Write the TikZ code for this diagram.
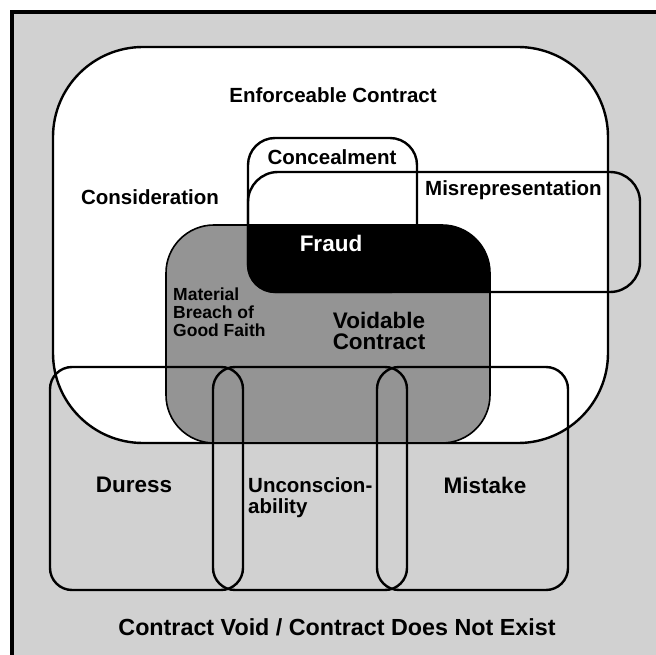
\documentclass[tikz,border=0pt]{standalone}
\usepackage{fontspec}
\setmainfont{Liberation Sans}
\definecolor{paper}{gray}{0.82}
\definecolor{voidgray}{gray}{0.58}
\tikzset{
  region/.style={draw=black, line width=2.4pt, rounded corners=#1},
  region/.default=22pt,
  lbl/.style={font=\bfseries\fontsize{20.5}{21}\selectfont, inner sep=0pt},
  smalllbl/.style={font=\bfseries\fontsize{17.5}{18}\selectfont, inner sep=0pt},
  biglbl/.style={font=\bfseries\fontsize{22.5}{21.5}\selectfont, inner sep=0pt},
}
\begin{document}
\begin{tikzpicture}[x=1pt,y=-1pt]
  \useasboundingbox (0,0) rectangle (656,655);
  % paper and frame
  \fill[paper] (12,12) rectangle (662,662);
  \draw[line width=3.5pt] (12,662) |- (662,12);
  % enforceable contract
  \draw[region=90pt, fill=white] (53,47) rectangle (608,443);
  % voidable contract
  \draw[region=48pt, fill=voidgray, line width=1.6pt] (166,225) rectangle (490,443);
  % fraud = voidable part of concealment and misrepresentation
  \begin{scope}
    \clip[rounded corners=48pt] (166,225) rectangle (490,443);
    \fill[rounded corners=30pt] (248,172) rectangle (640,292);
    \fill[rounded corners=27pt] (248,138) rectangle (417,292);
  \end{scope}
  \draw[region=27pt] (248,138) rectangle (417,292);
  \draw[region=30pt] (248,172) rectangle (640,292);
  % void contract
  \draw[region] (50,367) rectangle (243,590);
  \draw[region] (213,367) rectangle (407,590);
  \draw[region] (377,367) rectangle (568,590);
  % labels
  \node[lbl] (enforce) at (333,95) {Enforceable Contract};
  \node[lbl] (consid) at (150,197) {Consideration};
  \node[lbl] (conceal) at (332,157) {Concealment};
  \node[lbl, anchor=west] (misrep) at (425,190) {Misrepresentation};
  \node[biglbl, text=white] (fraud) at (331,243) {Fraud};
  \node[smalllbl, anchor=north west, align=left] (breach) at (173,288) {Material\\Breach of\\Good Faith};
  \node[biglbl, align=center] (voidable) at (379,331) {Voidable\\Contract};
  \node[biglbl] (duress) at (134,485) {Duress};
  \node[lbl, anchor=north west, align=left] (uncon) at (248,477.5) {Unconscion-\\ability};
  \node[biglbl] (mistake) at (485,485) {Mistake};
  \node[biglbl, font=\bfseries\fontsize{23.3}{24}\selectfont] (void) at (337,627) {Contract Void / Contract Does Not Exist};
\end{tikzpicture}
\end{document}
